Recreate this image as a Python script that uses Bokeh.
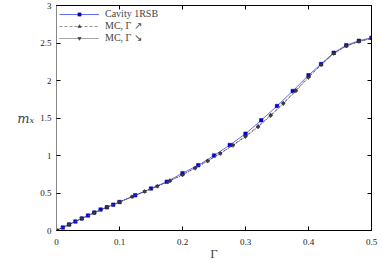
from bokeh.plotting import figure
from bokeh.models import LinearAxis, FixedTicker, Range1d, Legend, LegendItem
from bokeh.embed import file_html
from bokeh.resources import INLINE

# Cavity 1RSB
cav_x = [0.0, 0.01, 0.02, 0.03, 0.04, 0.05, 0.06, 0.07, 0.08, 0.09, 0.10, 0.125, 0.15,
         0.175, 0.20, 0.225, 0.25, 0.275, 0.30, 0.325, 0.35, 0.375, 0.40, 0.42, 0.44,
         0.46, 0.48, 0.50]
cav_y = [0.0, 0.04, 0.08, 0.12, 0.16, 0.20, 0.24, 0.28, 0.31, 0.345, 0.38, 0.47, 0.56,
         0.65, 0.765, 0.87, 1.0, 1.14, 1.29, 1.47, 1.66, 1.86, 2.07, 2.22, 2.37,
         2.47, 2.53, 2.57]
# MC, Gamma increasing
mc_x = [0.0, 0.02, 0.04, 0.06, 0.08, 0.10, 0.12, 0.14, 0.16, 0.18, 0.20, 0.22, 0.24,
        0.26, 0.28, 0.30, 0.32, 0.34, 0.36, 0.38, 0.40, 0.42, 0.44, 0.46, 0.48, 0.50]
mc_up_y = [0.0, 0.08, 0.16, 0.235, 0.31, 0.38, 0.45, 0.52, 0.59, 0.665, 0.745, 0.835, 0.93,
           1.03, 1.14, 1.26, 1.39, 1.54, 1.70, 1.87, 2.05, 2.21, 2.36, 2.46, 2.52, 2.56]
# MC, Gamma decreasing
mc_dn_y = [0.0, 0.08, 0.16, 0.235, 0.31, 0.38, 0.45, 0.52, 0.59, 0.66, 0.74, 0.83, 0.925,
           1.025, 1.135, 1.25, 1.38, 1.53, 1.69, 1.86, 2.04, 2.21, 2.36, 2.46, 2.52, 2.56]

x_ticks = [0, 0.1, 0.2, 0.3, 0.4, 0.5]
x_labels = ["0", "0.1", "0.2", "0.3", "0.4", "0.5"]
y_ticks = [0, 0.5, 1, 1.5, 2, 2.5, 3]
y_labels = ["0", "0.5", "1", "1.5", "2", "2.5", "3"]

FONT = "Liberation Serif"

p = figure(width=380, height=263, output_backend="svg", toolbar_location=None,
           x_range=Range1d(0, 0.5), y_range=Range1d(0, 3),
           min_border_left=56, min_border_right=9, min_border_top=5, min_border_bottom=31)
p.background_fill_color = "white"
p.border_fill_color = "white"
p.grid.visible = False
p.outline_line_color = "black"

for ax, ticks, labels in ((p.xaxis[0], x_ticks, x_labels), (p.yaxis[0], y_ticks, y_labels)):
    ax.ticker = FixedTicker(ticks=ticks)
    ax.major_label_overrides = {t: l for t, l in zip(ticks, labels)}
    ax.major_tick_in = 4
    ax.major_tick_out = 0
    ax.minor_tick_line_color = None
    ax.major_label_text_font = FONT
    ax.major_label_text_font_size = "9px"
    ax.major_label_text_color = "#222222"
    ax.axis_label_text_font = FONT
    ax.axis_label_text_font_style = "normal"

p.xaxis[0].axis_line_color = "black"
p.yaxis[0].axis_line_color = "#888888"
p.xaxis[0].axis_label = "Γ"
p.xaxis[0].axis_label_text_font_size = "13px"
p.xaxis[0].axis_label_standoff = -2
p.xaxis[0].major_label_standoff = 8
p.yaxis[0].axis_label = "mₓ"
p.yaxis[0].axis_label_text_font = "DejaVu Serif"
p.yaxis[0].axis_label_text_font_style = "italic"
p.yaxis[0].axis_label_text_font_size = "13px"
p.yaxis[0].axis_label_orientation = "horizontal"
p.yaxis[0].axis_label_standoff = 3
p.yaxis[0].major_label_standoff = 5

top = LinearAxis(ticker=FixedTicker(ticks=x_ticks),
                 major_label_overrides={t: "" for t in x_ticks},
                 major_tick_in=4, major_tick_out=0, minor_tick_line_color=None,
                 major_label_standoff=0, axis_line_color="black")
right = LinearAxis(ticker=FixedTicker(ticks=y_ticks),
                   major_label_overrides={t: "" for t in y_ticks},
                   major_tick_in=4, major_tick_out=0, minor_tick_line_color=None,
                   major_label_standoff=0, axis_line_color="black")
p.add_layout(top, "above")
p.add_layout(right, "right")

l1 = p.line(cav_x, cav_y, line_color="#6a6aff", line_width=1)
s1 = p.scatter(cav_x, cav_y, marker="square", size=3.5, fill_color="#0000dd",
               line_color="#0000aa", line_width=0.5)
l2 = p.line(mc_x, mc_up_y, line_color="#777777", line_width=0.8, line_dash="3 2")
s2 = p.scatter(mc_x, mc_up_y, marker="triangle", size=3.5, fill_color="#444444",
               line_color="#222222", line_width=0.5)
l3 = p.line(mc_x, mc_dn_y, line_color="#222222", line_width=0.8, line_dash="1 1")
s3 = p.scatter(mc_x, mc_dn_y, marker="inverted_triangle", size=3.5, fill_color="#444444",
               line_color="#222222", line_width=0.5)

legend = Legend(items=[LegendItem(label="Cavity 1RSB", renderers=[l1, s1]),
                       LegendItem(label="MC, Γ ↗", renderers=[l2, s2]),
                       LegendItem(label="MC, Γ ↘", renderers=[l3, s3])],
                location="top_left", border_line_color=None, background_fill_alpha=0,
                label_text_font=FONT, label_text_font_size="10px", label_height=8,
                glyph_height=8, glyph_width=40, spacing=1, padding=2, margin=3,
                label_standoff=6)
p.add_layout(legend)

open("out.html", "w").write(file_html(p, INLINE))
